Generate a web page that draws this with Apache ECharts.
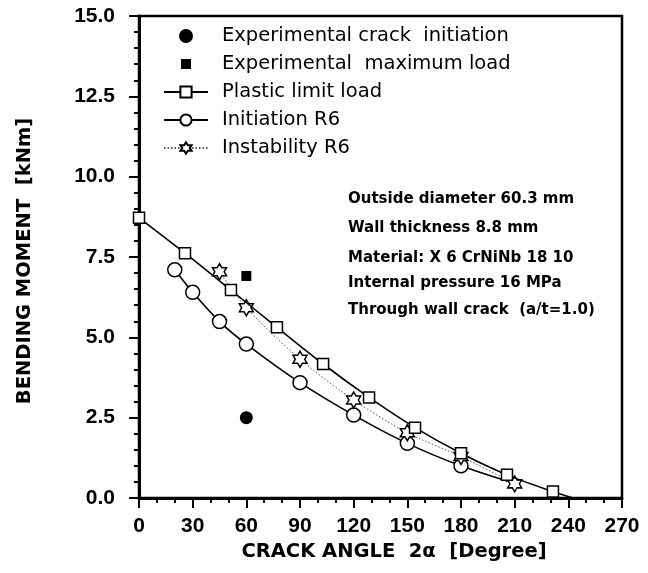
<!DOCTYPE html>
<html>
<head>
<meta charset="utf-8">
<script src="https://cdn.jsdelivr.net/npm/echarts@6/dist/echarts.min.js"></script>
<style>
  html, body { margin: 0; padding: 0; background: #fff; }
  #main { width: 648px; height: 573px; }
</style>
</head>
<body>
<div id="main"></div>
<script>
// crack angle 2a [deg] vs bending moment [kNm]
var plasticX = [0, 25.7, 51.4, 77.1, 102.9, 128.6, 154.3, 180, 205.7, 231.4, 242.7];
var plasticY = [8.72, 7.62, 6.47, 5.31, 4.17, 3.13, 2.19, 1.39, 0.72, 0.2, 0];
var initX = [20, 30, 45, 60, 90, 120, 150, 180, 210];
var initY = [7.1, 6.4, 5.49, 4.79, 3.59, 2.58, 1.7, 1.0, 0.45];
var instabX = [45, 60, 90, 120, 150, 180, 210];
var instabY = [7.04, 5.92, 4.32, 3.05, 2.03, 1.29, 0.44];
var expInitX = [60], expInitY = [2.5];
var expMaxX = [60], expMaxY = [6.91];
var notes = [
  'Outside diameter 60.3 mm',
  'Wall thickness 8.8 mm',
  'Material: X 6 CrNiNb 18 10',
  'Internal pressure 16 MPa',
  'Through wall crack  (a/t=1.0)'
];
var noteY = [198, 227, 257, 282, 309];

var FONT = 'Liberation Sans, Arial, sans-serif';
var WIDE = 'DejaVu Sans, sans-serif';
var starPath = 'path://M100,0 L128.87,50 L186.6,50 L157.7,100 L186.6,150 L128.87,150 L100,200 L71.13,150 L13.4,150 L42.3,100 L13.4,50 L71.13,50 Z';
// small square with empty margin so the legend keeps it 10px
var legendSquare = 'path://M0,0 M14,14 M2,2 L12,2 L12,12 L2,12 Z';

function pairs(xs, ys) {
  return xs.map(function (x, i) { return [x, ys[i]]; });
}

var plasticData = pairs(plasticX, plasticY);
plasticData[plasticData.length - 1] = { value: plasticData[plasticData.length - 1], symbol: 'none' };
var initData = pairs(initX, initY);
initData[initData.length - 1] = { value: initData[initData.length - 1], symbol: 'none' };

var myChart = echarts.init(document.getElementById('main'));

var option = {
  backgroundColor: '#fff',
  animation: false,
  grid: {
    left: 139, right: 26, top: 16, bottom: 75,
    show: true, borderColor: '#000', borderWidth: 2.5
  },
  legend: {
    orient: 'vertical',
    left: 158, top: 21,
    itemWidth: 44, itemHeight: 14, itemGap: 8,
    textStyle: { fontFamily: WIDE, fontSize: 19.5, color: '#000', lineHeight: 20, padding: [0, 0, 0, 9] },
    data: [
      { name: 'Experimental crack  initiation' },
      { name: 'Experimental  maximum load', icon: legendSquare },
      { name: 'Plastic limit load' },
      { name: 'Initiation R6' },
      { name: 'Instability R6' }
    ]
  },
  xAxis: {
    type: 'value', min: 0, max: 270, interval: 30,
    name: 'CRACK ANGLE  2\u03b1  [Degree]', nameLocation: 'middle', nameGap: 28,
    nameTextStyle: { fontFamily: WIDE, fontSize: 19.5, fontWeight: 'bold', color: '#000', padding: [0, 0, 0, 27] },
    axisLine: { lineStyle: { color: '#000', width: 3 } },
    axisTick: { inside: false, length: 10, lineStyle: { color: '#000', width: 2 } },
    minorTick: { show: true, splitNumber: 3, length: 5, lineStyle: { color: '#000', width: 2 } },
    axisLabel: { fontFamily: FONT, fontSize: 21, fontWeight: 'bold', color: '#000', margin: 18 },
    splitLine: { show: false }
  },
  yAxis: {
    type: 'value', min: 0, max: 15, interval: 2.5,
    name: 'BENDING MOMENT  [kNm]', nameLocation: 'middle', nameGap: 104,
    nameTextStyle: { fontFamily: WIDE, fontSize: 19.5, fontWeight: 'bold', color: '#000', padding: [0, 8, 0, 0] },
    axisLine: { show: true, lineStyle: { color: '#000', width: 3 } },
    axisTick: { show: true, length: 10, lineStyle: { color: '#000', width: 2 } },
    minorTick: { show: true, splitNumber: 5, length: 5, lineStyle: { color: '#000', width: 2 } },
    axisLabel: {
      fontFamily: FONT, fontSize: 21, fontWeight: 'bold', color: '#000', margin: 24,
      formatter: function (v) { return v.toFixed(1); }
    },
    splitLine: { show: false }
  },
  series: [
    {
      name: 'Experimental crack  initiation', type: 'scatter',
      symbol: 'circle', symbolSize: 13,
      itemStyle: { color: '#000', opacity: 1 },
      data: pairs(expInitX, expInitY), z: 5
    },
    {
      name: 'Experimental  maximum load', type: 'scatter',
      symbol: 'rect', symbolSize: 10,
      itemStyle: { color: '#000', opacity: 1 },
      data: pairs(expMaxX, expMaxY), z: 5
    },
    {
      name: 'Plastic limit load', type: 'line', smooth: 0.3,
      symbol: 'rect', symbolSize: 11,
      lineStyle: { color: '#000', width: 1.6 },
      itemStyle: { color: '#fff', borderColor: '#000', borderWidth: 1.5 },
      data: plasticData, z: 4
    },
    {
      name: 'Initiation R6', type: 'line', smooth: 0.3,
      symbol: 'circle', symbolSize: 14,
      lineStyle: { color: '#000', width: 1.6 },
      itemStyle: { color: '#fff', borderColor: '#000', borderWidth: 1.5 },
      data: initData, z: 3
    },
    {
      name: 'Instability R6', type: 'line', smooth: 0.3,
      symbol: starPath, symbolSize: [14, 16],
      lineStyle: { color: '#555', width: 1, type: [1.5, 2] },
      itemStyle: { color: '#fff', borderColor: '#000', borderWidth: 1.5 },
      data: pairs(instabX, instabY), z: 3
    }
  ],
  graphic: notes.map(function (t, i) {
    return {
      type: 'text', left: 348, top: noteY[i] - 6,
      style: { text: t, fontFamily: WIDE, fontSize: 15, fontWeight: 'bold', fill: '#000' }
    };
  })
};

myChart.setOption(option);
</script>
</body>
</html>
